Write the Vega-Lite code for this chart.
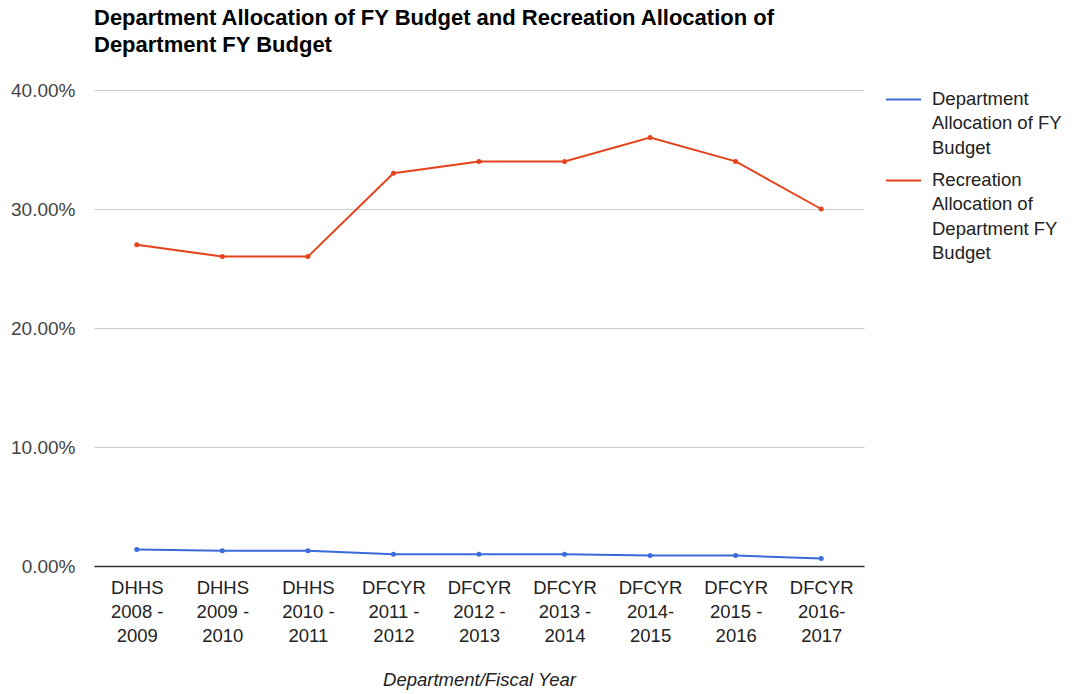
{
  "$schema": "https://vega.github.io/schema/vega-lite/v6.json",
  "autosize": "none",
  "width": 770,
  "height": 476,
  "padding": {"left": 94, "top": 90, "right": 209, "bottom": 128},
  "background": "white",
  "title": {
    "text": ["Department Allocation of FY Budget and Recreation Allocation of", "Department FY Budget"],
    "anchor": "start",
    "frame": "group",
    "font": "Liberation Sans",
    "fontSize": 22,
    "fontWeight": "bold",
    "color": "#000000",
    "lineHeight": 27,
    "offset": 24
  },
  "config": {
    "view": {"stroke": null},
    "font": "Liberation Sans"
  },
  "data": {
    "values": [
      {"period": "DHHS 2008 - 2009", "series": "Department Allocation of FY Budget", "value": 0.0139},
      {"period": "DHHS 2009 - 2010", "series": "Department Allocation of FY Budget", "value": 0.0128},
      {"period": "DHHS 2010 - 2011", "series": "Department Allocation of FY Budget", "value": 0.0128},
      {"period": "DFCYR 2011 - 2012", "series": "Department Allocation of FY Budget", "value": 0.0099},
      {"period": "DFCYR 2012 - 2013", "series": "Department Allocation of FY Budget", "value": 0.0099},
      {"period": "DFCYR 2013 - 2014", "series": "Department Allocation of FY Budget", "value": 0.0099},
      {"period": "DFCYR 2014-2015", "series": "Department Allocation of FY Budget", "value": 0.0088},
      {"period": "DFCYR 2015 - 2016", "series": "Department Allocation of FY Budget", "value": 0.0088},
      {"period": "DFCYR 2016-2017", "series": "Department Allocation of FY Budget", "value": 0.0063},
      {"period": "DHHS 2008 - 2009", "series": "Recreation Allocation of Department FY Budget", "value": 0.27},
      {"period": "DHHS 2009 - 2010", "series": "Recreation Allocation of Department FY Budget", "value": 0.26},
      {"period": "DHHS 2010 - 2011", "series": "Recreation Allocation of Department FY Budget", "value": 0.26},
      {"period": "DFCYR 2011 - 2012", "series": "Recreation Allocation of Department FY Budget", "value": 0.33},
      {"period": "DFCYR 2012 - 2013", "series": "Recreation Allocation of Department FY Budget", "value": 0.34},
      {"period": "DFCYR 2013 - 2014", "series": "Recreation Allocation of Department FY Budget", "value": 0.34},
      {"period": "DFCYR 2014-2015", "series": "Recreation Allocation of Department FY Budget", "value": 0.36},
      {"period": "DFCYR 2015 - 2016", "series": "Recreation Allocation of Department FY Budget", "value": 0.34},
      {"period": "DFCYR 2016-2017", "series": "Recreation Allocation of Department FY Budget", "value": 0.30}
    ]
  },
  "mark": {"type": "line", "strokeWidth": 2, "point": {"size": 25, "filled": true}},
  "encoding": {
    "x": {
      "field": "period",
      "type": "nominal",
      "sort": null,
      "scale": {"type": "point", "padding": 0.5},
      "axis": {
        "title": "Department/Fiscal Year",
        "titleFont": "Liberation Sans",
        "titleFontSize": 18.5,
        "titleFontStyle": "italic",
        "titleFontWeight": "normal",
        "titleColor": "#222222",
        "titlePadding": 26,
        "labelAngle": 0,
        "labelFontSize": 18.5,
        "labelColor": "#222222",
        "labelLineHeight": 24,
        "labelPadding": 12,
        "labelExpr": "length(split(datum.label, ' ')) == 4 ? [split(datum.label, ' ')[0], split(datum.label, ' ')[1] + ' -', split(datum.label, ' ')[3]] : [split(datum.label, ' ')[0], slice(split(datum.label, ' ')[1], 0, 5), slice(split(datum.label, ' ')[1], 5)]",
        "ticks": false,
        "domainColor": "#333333",
        "domainWidth": 1.5,
        "grid": false
      }
    },
    "y": {
      "field": "value",
      "type": "quantitative",
      "scale": {"domain": [0, 0.4], "nice": false},
      "axis": {
        "title": null,
        "values": [0, 0.1, 0.2, 0.3, 0.4],
        "format": ".2%",
        "labelFontSize": 19,
        "labelColor": "#444444",
        "labelPadding": 19,
        "ticks": false,
        "domain": false,
        "gridColor": "#cccccc",
        "gridWidth": 1
      }
    },
    "color": {
      "field": "series",
      "type": "nominal",
      "scale": {"range": ["#3a6bd8", "#e5431c"]},
      "legend": {
        "title": null,
        "orient": "none",
        "legendX": 791,
        "legendY": -9,
        "symbolType": "stroke",
        "symbolSize": 1225,
        "symbolStrokeWidth": 2,
        "labelFontSize": 18.5,
        "labelColor": "#222222",
        "labelLimit": 300,
        "labelOffset": 10,
        "labelBaseline": "top",
        "rowPadding": 5,
        "labelExpr": "datum.label == 'Department Allocation of FY Budget' ? ['Department', 'Allocation of FY', 'Budget'] : ['Recreation', 'Allocation of', 'Department FY', 'Budget']",
        "encode": {
          "labels": {"update": {"lineHeight": {"value": 24.5}, "dy": {"value": -10}}}
        }
      }
    }
  }
}
